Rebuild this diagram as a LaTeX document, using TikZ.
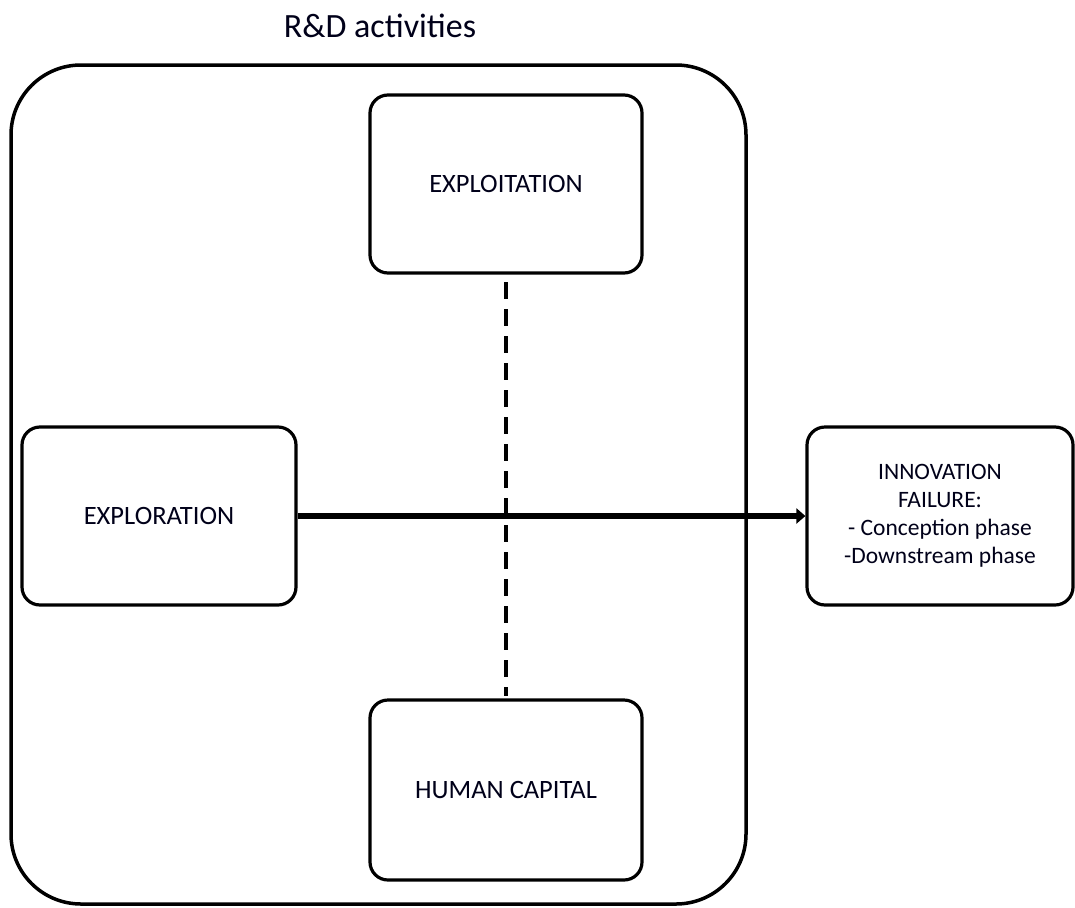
\documentclass[tikz,border=0pt]{standalone}
\usepackage{fontspec}
\setmainfont{Carlito}
\usetikzlibrary{arrows.meta}
\begin{document}
\begin{tikzpicture}[x=1pt,y=-1pt,
  box/.style={draw=black, line width=3.2pt, rounded corners=18pt, fill=white, inner sep=0pt, align=center, font=\fontsize{26.5}{28}\selectfont, text=black!90!blue},
  outer/.style={draw=black, line width=3.5pt, rounded corners=70pt},
  link/.style={line width=6.5pt, -{Triangle[length=9pt,width=15pt]}},
  dashline/.style={line width=3.2pt, dash pattern=on 17pt off 10pt}]
\useasboundingbox (0,0) rectangle (1075,907);
\node[text=black!90!blue, font=\fontsize{34}{40}\selectfont] (title) at (380,26) {R\&D activities};
\draw[outer] (11,65) rectangle (746,904);
\coordinate (expltop) at (506,282);
\coordinate (hcbot) at (506,696);
\draw[dashline] (expltop) -- (hcbot);
\node[box, minimum width=272pt, minimum height=178pt] (exploit) at (506,184) {EXPLOITATION};
\node[box, minimum width=272pt, minimum height=180pt] (human) at (506,790) {HUMAN CAPITAL};
\node[box, minimum width=274pt, minimum height=178pt] (explore) at (159,516) {EXPLORATION};
\node[box, minimum width=266pt, minimum height=178pt, font=\fontsize{23.5}{28}\selectfont] (innov) at (940,516) {INNOVATION\\FAILURE:\\- Conception phase\\-Downstream phase};
\draw[link] (explore.east) -- (innov.west);
\end{tikzpicture}
\end{document}
